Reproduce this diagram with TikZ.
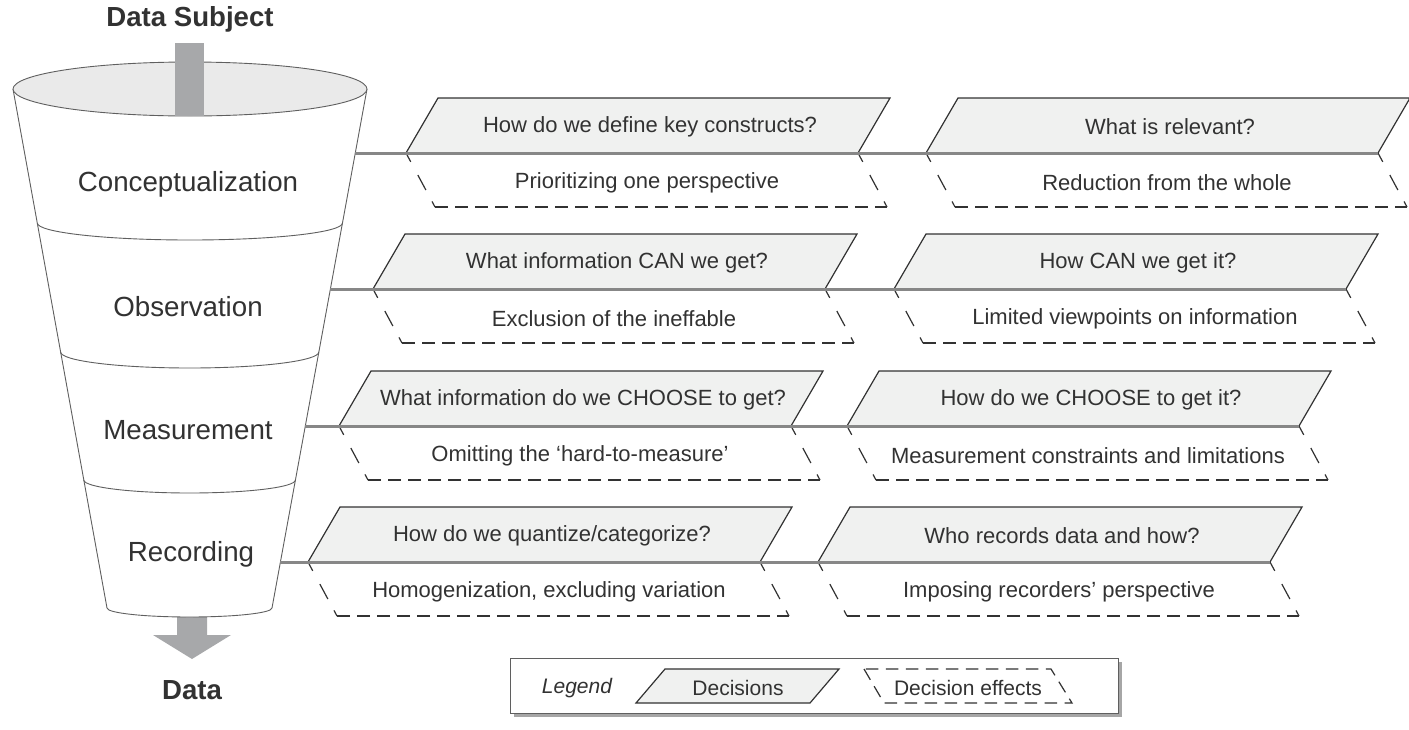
\documentclass[tikz,border=0pt]{standalone}
\usepackage{fontspec}
\setmainfont{Liberation Sans}
\usetikzlibrary{shadows}

\definecolor{inkgray}{RGB}{50,50,50}
\definecolor{boxfill}{RGB}{240,241,240}
\definecolor{linegray}{RGB}{135,135,135}
\definecolor{bargray}{RGB}{167,168,170}
\definecolor{rimgray}{RGB}{234,234,234}
\definecolor{edgegray}{RGB}{95,95,95}

\begin{document}
\begin{tikzpicture}[x=1pt,y=-1pt,
    decision/.style={draw=inkgray,fill=boxfill,line width=1.2pt},
    effect/.style={draw=inkgray,line width=1.2pt,dash pattern=on 12.5pt off 7.5pt},
    effectside/.style={draw=inkgray,line width=1.2pt,dash pattern=on 10pt off 15pt on 17pt off 13pt on 12pt},
    rowline/.style={draw=linegray,line width=3pt},
    funnel/.style={draw=edgegray,line width=0.9pt},
    stage/.style={text=inkgray,font=\fontsize{27.7}{33}\selectfont},
    ends/.style={text=inkgray,font=\fontsize{27.6}{33}\selectfont\bfseries},
    boxtext/.style={text=inkgray,font=\fontsize{22}{26}\selectfont}]

    \useasboundingbox (0,0) rectangle (1409,729);

    % funnel
    \fill[bargray] (177,612) -- (207,612) -- (207,635) -- (231,635) -- (192,659) -- (153,635) -- (177,635) -- cycle;
    \draw[funnel,fill=white] (13,89) -- (107,608) arc[start angle=180,end angle=0,x radius=82.5,y radius=9] -- (367,89);
    \draw[funnel,fill=rimgray] (190,89) ellipse[x radius=177,y radius=27];
    \fill[bargray] (175,43) rectangle (204,116);
    \draw[funnel] (37.3,223) arc[start angle=180,end angle=0,x radius=152.6,y radius=17];
    \draw[funnel] (60.6,352) arc[start angle=180,end angle=0,x radius=129.1,y radius=16];
    \draw[funnel] (83.8,480) arc[start angle=180,end angle=0,x radius=105.8,y radius=13];

    \node[ends] (subject) at (190,19) {Data Subject};
    \node[ends] (data) at (192,690) {Data};
    \node[stage] (concept) at (188,184) {Conceptualization};
    \node[stage] (observe) at (188,307) {Observation};
    \node[stage] (measure) at (188,430) {Measurement};
    \node[stage] (record) at (191,554) {Recording};

    % conceptualization
    \draw[decision] (406,153) -- (438,98) -- (890,98) -- (858,153) -- cycle;
    \draw[decision] (926,153) -- (958,98) -- (1410,98) -- (1378,153) -- cycle;
    \draw[effectside] (406,153) -- (435,207);
    \draw[effectside] (858,153) -- (887,207);
    \draw[effect] (435,207) -- (887,207);
    \draw[effectside] (926,153) -- (955,207);
    \draw[effectside] (1378,153) -- (1407,207);
    \draw[effect] (955,207) -- (1407,207);
    \node[boxtext] (q11) at (650,127) {How do we define key constructs?};
    \node[boxtext] (q12) at (1170,127) {What is relevant?};
    \node[boxtext] (e11) at (647,183) {Prioritizing one perspective};
    \node[boxtext] (e12) at (1167,183) {Reduction from the whole};
    \coordinate (f1) at (355.3,153);
    \coordinate (r1) at (1378,153);
    \draw[rowline] (f1) -- (r1);

    % observation
    \draw[decision] (373,289) -- (405,234) -- (857,234) -- (825,289) -- cycle;
    \draw[decision] (894,289) -- (926,234) -- (1378,234) -- (1346,289) -- cycle;
    \draw[effectside] (373,289) -- (402,343);
    \draw[effectside] (825,289) -- (854,343);
    \draw[effect] (402,343) -- (854,343);
    \draw[effectside] (894,289) -- (923,343);
    \draw[effectside] (1346,289) -- (1375,343);
    \draw[effect] (923,343) -- (1375,343);
    \node[boxtext] (q21) at (617,263) {What information CAN we get?};
    \node[boxtext] (q22) at (1138,263) {How CAN we get it?};
    \node[boxtext] (e21) at (614,319) {Exclusion of the ineffable};
    \node[boxtext] (e22) at (1135,319) {Limited viewpoints on information};
    \coordinate (f2) at (330.4,289);
    \coordinate (r2) at (1346,289);
    \draw[rowline] (f2) -- (r2);

    % measurement
    \draw[decision] (339,426) -- (371,371) -- (823,371) -- (791,426) -- cycle;
    \draw[decision] (847,426) -- (879,371) -- (1331,371) -- (1299,426) -- cycle;
    \draw[effectside] (339,426) -- (368,480);
    \draw[effectside] (791,426) -- (820,480);
    \draw[effect] (368,480) -- (820,480);
    \draw[effectside] (847,426) -- (876,480);
    \draw[effectside] (1299,426) -- (1328,480);
    \draw[effect] (876,480) -- (1328,480);
    \node[boxtext] (q31) at (583,400) {What information do we CHOOSE to get?};
    \node[boxtext] (q32) at (1091,400) {How do we CHOOSE to get it?};
    \node[boxtext] (e31) at (580,456) {Omitting the ‘hard-to-measure’};
    \node[boxtext] (e32) at (1088,456) {Measurement constraints and limitations};
    \coordinate (f3) at (305.3,426);
    \coordinate (r3) at (1299,426);
    \draw[rowline] (f3) -- (r3);

    % recording
    \draw[decision] (308,562) -- (340,507) -- (792,507) -- (760,562) -- cycle;
    \draw[decision] (818,562) -- (850,507) -- (1302,507) -- (1270,562) -- cycle;
    \draw[effectside] (308,562) -- (337,616);
    \draw[effectside] (760,562) -- (789,616);
    \draw[effect] (337,616) -- (789,616);
    \draw[effectside] (818,562) -- (847,616);
    \draw[effectside] (1270,562) -- (1299,616);
    \draw[effect] (847,616) -- (1299,616);
    \node[boxtext] (q41) at (552,536) {How do we quantize/categorize?};
    \node[boxtext] (q42) at (1062,536) {Who records data and how?};
    \node[boxtext] (e41) at (549,592) {Homogenization, excluding variation};
    \node[boxtext] (e42) at (1059,592) {Imposing recorders’ perspective};
    \coordinate (f4) at (280.4,562);
    \coordinate (r4) at (1270,562);
    \draw[rowline] (f4) -- (r4);

    % legend
    \draw[draw=edgegray,fill=white,line width=0.9pt,drop shadow={shadow xshift=4pt,shadow yshift=-4pt,fill=black,opacity=0.35}] (510,658) rectangle (1118,713);
    \draw[decision] (636,703) -- (665,669) -- (839,669) -- (810,703) -- cycle;
    \draw[effect] (864,669) -- (884,703) -- (1072,703) -- (1051,669) -- cycle;
    \node[boxtext,font=\fontsize{21}{25}\selectfont\itshape] (legend) at (577,688) {Legend};
    \node[boxtext,font=\fontsize{21}{25}\selectfont] (decisions) at (738,688) {Decisions};
    \node[boxtext,font=\fontsize{21}{25}\selectfont] (effects) at (968,688) {Decision effects};
\end{tikzpicture}
\end{document}
